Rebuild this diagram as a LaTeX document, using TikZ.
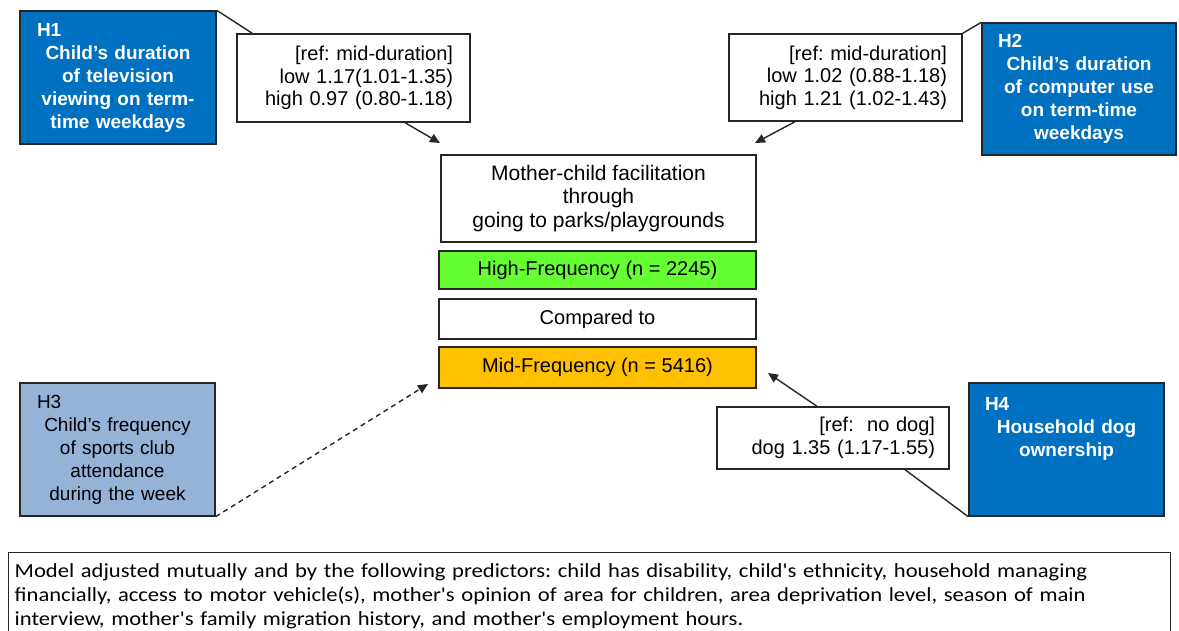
\documentclass[tikz,border=0pt]{standalone}
\usepackage{fontspec}
\setmainfont{Liberation Sans}
\newfontfamily\notefont[FakeStretch=1.13]{Carlito}
\usetikzlibrary{arrows.meta}
\frenchspacing

\definecolor{hypblue}{HTML}{0070C0}
\definecolor{hyplight}{HTML}{95B3D7}
\definecolor{highgreen}{HTML}{66FF33}
\definecolor{midorange}{HTML}{FFC000}
\definecolor{edge}{HTML}{262626}

\tikzset{
  box/.style={draw=edge, line width=1.4pt, inner sep=0pt,
    font=\fontsize{20}{22.5}\selectfont},
  hyp/.style={box, fill=hypblue, text=white, align=center,
    font=\bfseries\fontsize{19}{23}\selectfont},
  hyplt/.style={box, fill=hyplight, text=black, align=center,
    font=\fontsize{19}{23}\selectfont},
  stat/.style={box, fill=white, align=right},
  band/.style={box, align=center, minimum width=317pt},
  link/.style={draw=edge, line width=1.4pt},
  arr/.style={link, -{Triangle[length=10pt,width=9pt]}},
}

\begin{document}
\begin{tikzpicture}[x=1pt,y=-1pt]
\useasboundingbox (0,0) rectangle (1179,631);
\clip (0,0) rectangle (1179,631);

% hypothesis boxes
\node[hyp, minimum width=196pt, minimum height=133pt, text width=162pt] (h1) at (118,77.5)
  {\makebox[162pt][l]{H1}\\Child's duration\\of television\\viewing on term-\\time weekdays};
\node[hyp, minimum width=194pt, minimum height=132pt, text width=162pt] (h2) at (1079,89)
  {\makebox[162pt][l]{H2}\\Child's duration\\of computer use\\on term-time\\weekdays};
\node[hyplt, minimum width=195pt, minimum height=133pt, text width=161pt] (h3) at (117.5,449.5)
  {\makebox[161pt][l]{H3}\\Child's frequency\\of sports club\\attendance\\during the week};
\node[hyp, minimum width=195pt, minimum height=133pt, text width=163pt] (h4) at (1066.5,449.5)
  {\makebox[163pt][l]{H4}\\Household dog\\ownership\\\mbox{}\\\mbox{}};

% odds ratio boxes
\node[stat, minimum width=233pt, minimum height=88pt, text width=199pt] (s1) at (353.5,78)
  {[ref: mid-duration]\\low 1.17(1.01-1.35)\\high 0.97 (0.80-1.18)};
\node[stat, minimum width=233pt, minimum height=87pt, text width=203pt] (s2) at (845.5,77.5)
  {[ref: mid-duration]\\low 1.02 (0.88-1.18)\\high 1.21 (1.02-1.43)};
\node[stat, minimum width=232pt, minimum height=62pt, text width=204pt] (s4) at (833,438)
  {[ref:\ \ no dog]\\dog 1.35 (1.17-1.55)};

% outcome column
\node[box, align=center, minimum width=315pt, minimum height=87pt,
  font=\fontsize{21}{23.5}\selectfont] (out) at (598.5,198.5)
  {Mother-child facilitation\\through\\going to parks/playgrounds};
\node[band, fill=highgreen, minimum height=38pt] (hi) at (597.5,270) {High-Frequency (n = 2245)};
\node[band, fill=white, minimum height=40pt] (cmp) at (597.5,319) {Compared to};
\node[band, fill=midorange, minimum height=41pt] (mid) at (597.5,367.5) {Mid-Frequency (n = 5416)};

% arrow targets
\coordinate (t1) at (440,143);
\coordinate (t2) at (755,143);
\coordinate (t3) at (428,384);
\coordinate (t4) at (768,373);

% connectors
\draw[link] (h1.north east) -- ([xshift=16pt]s1.north west);
\draw[arr] ([xshift=51.5pt]s1.south) -- (t1);
\draw[link] (h2.north west) -- (s2.north east);
\draw[arr] ([xshift=-50.5pt]s2.south) -- (t2);
\draw[link] (h4.south west) -- ([xshift=72pt]s4.south);
\draw[arr] ([xshift=-16pt]s4.north) -- (t4);
\draw[arr, dash pattern=on 5pt off 4pt] (h3.south east) -- (t3);

% adjustment note (runs past the lower edge)
\node[draw=edge, line width=1.4pt, anchor=north west, text width=1150pt,
  align=left, inner xsep=6pt, inner ysep=11pt, text=black,
  font=\notefont\fontsize{20}{24}\selectfont] (note) at (8,552)
  {Model adjusted mutually and by the following predictors: child has disability, child's ethnicity, household managing\\
   financially, access to motor vehicle(s), mother's opinion of area for children, area deprivation level, season of main\\
   interview, mother's family migration history, and mother's employment hours.\\[6pt]\mbox{}};
\end{tikzpicture}
\end{document}
